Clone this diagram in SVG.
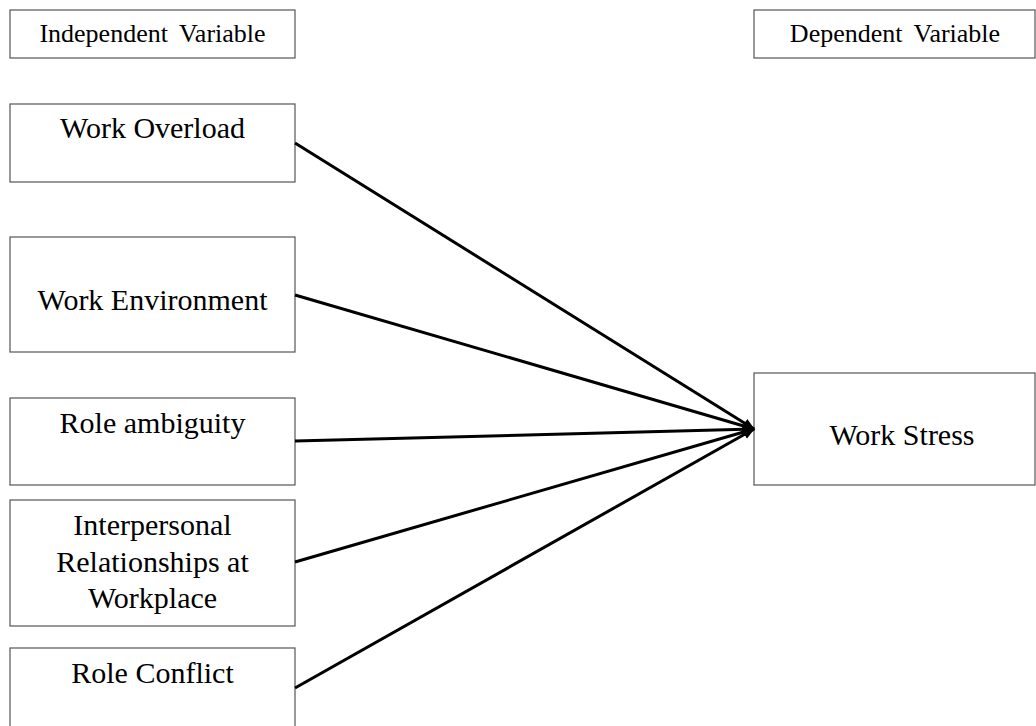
<svg xmlns="http://www.w3.org/2000/svg" width="1036" height="726" viewBox="0 0 1036 726">
<defs>
<style>
.box{fill:#fff;stroke:#555;stroke-width:1.2}
.t{font-family:"Liberation Serif","Times New Roman",serif;fill:#000;text-anchor:middle}
.h{font-size:26px;word-spacing:5px}
.n{font-size:30px}
.c{stroke:#000;stroke-width:3;fill:none;marker-end:url(#ah)}
</style>
<marker id="ah" markerUnits="userSpaceOnUse" markerWidth="12" markerHeight="12" refX="11" refY="6" orient="auto" viewBox="0 0 12 12">
<path d="M0,1 L12,6 L0,11 z" fill="#000"/>
</marker>
</defs>
<rect width="1036" height="726" fill="#fff"/>
<g id="indep-header">
<rect class="box" x="10" y="10" width="285" height="48"/>
<text class="t h" x="152.5" y="42">Independent Variable</text>
</g>
<g id="dep-header">
<rect class="box" x="754" y="10" width="281" height="48"/>
<text class="t h" x="895" y="42">Dependent Variable</text>
</g>
<g id="work-overload">
<rect class="box" x="10" y="104" width="285" height="78"/>
<text class="t n" x="152.5" y="138">Work Overload</text>
</g>
<g id="work-environment">
<rect class="box" x="10" y="237" width="285" height="115"/>
<text class="t n" x="152.5" y="310">Work Environment</text>
</g>
<g id="role-ambiguity">
<rect class="box" x="10" y="398" width="285" height="87"/>
<text class="t n" x="152.5" y="433">Role ambiguity</text>
</g>
<g id="interpersonal">
<rect class="box" x="10" y="500" width="285" height="126"/>
<text class="t n" x="152.5" y="535">Interpersonal</text>
<text class="t n" x="152.5" y="571.5">Relationships at</text>
<text class="t n" x="152.5" y="608">Workplace</text>
</g>
<g id="role-conflict">
<rect class="box" x="10" y="648" width="285" height="90"/>
<text class="t n" x="152.5" y="683">Role Conflict</text>
</g>
<g id="work-stress">
<rect class="box" x="754" y="373" width="281" height="112"/>
<text class="t n" x="902" y="445">Work Stress</text>
</g>
<g id="connectors">
<line class="c" x1="295" y1="143" x2="754" y2="429"/>
<line class="c" x1="295" y1="295" x2="754" y2="429"/>
<line class="c" x1="295" y1="441" x2="754" y2="429"/>
<line class="c" x1="295" y1="562" x2="754" y2="429"/>
<line class="c" x1="295" y1="688" x2="754" y2="429"/>
</g>
</svg>
